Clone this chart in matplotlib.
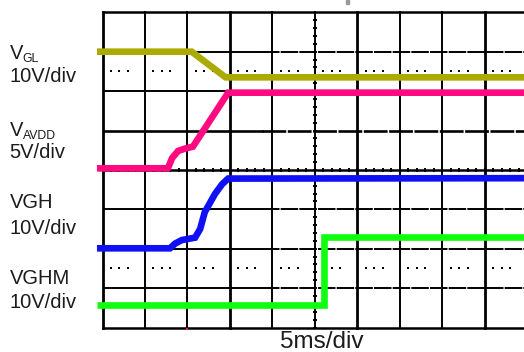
import numpy as np
import matplotlib.pyplot as plt
from matplotlib.patches import Rectangle

plt.rcParams['font.family'] = ['Liberation Sans', 'DejaVu Sans']

# Traces, time in divisions (5 ms/div), level in screen divisions
vgl_t = [-0.13, 2.10, 2.90, 10.0]
vgl_v = [7.00, 7.00, 6.35, 6.35]

avdd_t = [-0.13, 1.54, 1.64, 1.78, 1.94, 2.13, 2.96, 10.0]
avdd_v = [4.04, 4.04, 4.30, 4.48, 4.54, 4.59, 5.96, 5.96]

vgh_t = [-0.13, 1.59, 1.71, 1.87, 2.18, 2.30, 2.41, 2.65, 2.82, 2.96, 10.0]
vgh_v = [2.01, 2.01, 2.13, 2.22, 2.28, 2.50, 2.93, 3.39, 3.64, 3.78, 3.79]

vghm_t = [-0.13, 5.22, 5.22, 10.0]
vghm_v = [0.58, 0.58, 2.29, 2.29]

traces = [
    (vgl_t, vgl_v, '#aaaa00'),
    (avdd_t, avdd_v, '#ff0a80'),
    (vgh_t, vgh_v, '#1010f5'),
    (vghm_t, vghm_v, '#10ff10'),
]

W, H = 524, 352
fig = plt.figure(figsize=(W / 100, H / 100), dpi=100)
ax = fig.add_axes([102.5 / W, (H - 327.5) / H, 424.5 / W, 315.2 / H])
ax.set_xlim(0, 10)
ax.set_ylim(0, 8)
ax.axis('off')

# graticule
for x in range(11):
    lw = 2.0 if x in (0, 3, 6, 9) else 1.4
    ax.plot([x, x], [0, 8], color='black', lw=lw, clip_on=False, zorder=1)
for y in range(9):
    if y in (0, 4, 8):
        ax.plot([0, 10], [y, y], color='black', lw=1.8, clip_on=False, zorder=1)
    else:
        lw = 1.9 if y == 5 else 1.4
        ax.plot([0, 3.75], [y, y], color='black', lw=lw, zorder=1)
        ax.plot([3.75, 10], [y, y], color='black', lw=lw,
                linestyle=(0, (9.0, 0.6)), zorder=1)

# minor ticks on the centre lines
minor = np.arange(0, 10.01, 0.2)
ax.plot(minor, np.full_like(minor, 4.0), linestyle='none', marker='|',
        ms=3.5, mew=1.4, color='black', zorder=1)
minor_y = np.arange(0, 8.01, 0.2)
ax.plot(np.full_like(minor_y, 5.0), minor_y, linestyle='none', marker='_',
        ms=3.5, mew=1.4, color='black', zorder=1)

# dotted reference rows
dots = np.array([d + f for d in range(10) for f in (0.2, 0.4, 0.6)])
for yr in (6.5, 1.5):
    ax.plot(dots, np.full_like(dots, yr), linestyle='none', marker='s',
            ms=1.6, mew=0, color='black', zorder=1)

for t, v, c in traces:
    ax.plot(t, v, color=c, lw=4.8, solid_capstyle='butt',
            solid_joinstyle='miter', clip_on=False, zorder=3)

# trigger marker below the graticule
ax.plot([2.0], [-0.04], marker='s', ms=1.8, mew=0, color='#ff0a80',
        clip_on=False, zorder=3)


def px(x, y):
    return x / W, 1 - y / H


tc = '#1c1c1c'
big = 14.5
sub = 8.8

fig.text(*px(9.5, 59), 'V', fontsize=big, color=tc, va='baseline')
fig.text(*px(22.5, 61.5), 'GL', fontsize=sub, color=tc, va='baseline')
fig.text(*px(9.5, 81.5), '10V/div', fontsize=big, color=tc, va='baseline')

fig.text(*px(9.5, 136.5), 'V', fontsize=big, color=tc, va='baseline')
fig.text(*px(22.5, 138.5), 'AVDD', fontsize=sub, color=tc, va='baseline')
fig.text(*px(9.5, 158), '5V/div', fontsize=big, color=tc, va='baseline')

fig.text(*px(9.5, 208.5), 'VGH', fontsize=big, color=tc, va='baseline')
fig.text(*px(9.5, 233.5), '10V/div', fontsize=big, color=tc, va='baseline')

fig.text(*px(9.5, 283.5), 'VGHM', fontsize=big, color=tc, va='baseline')
fig.text(*px(9.5, 307.5), '10V/div', fontsize=big, color=tc, va='baseline')

fig.text(*px(321.5, 347.5), '5ms/div', fontsize=17.5, color=tc,
         ha='center', va='baseline')

# clipped glyph at the top edge
fig.patches.append(Rectangle(px(345.5, 3.5), 3.5 / W, 3.5 / H,
                             transform=fig.transFigure, color='#9a9a9a'))

fig.savefig('out.png', dpi=100)
